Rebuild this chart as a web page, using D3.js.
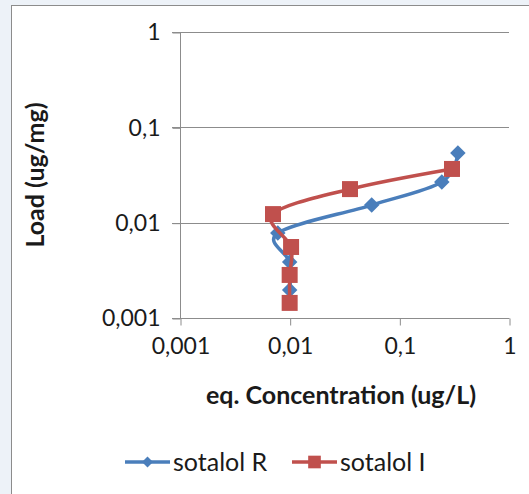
<!DOCTYPE html>
<html>
<head>
<meta charset="utf-8">
<script src="https://cdn.jsdelivr.net/npm/d3@7"></script>
<style>
  html, body { margin: 0; padding: 0; background: #edf2f8; }
  svg { display: block; }
  text { font-family: Lato, "Open Sans", sans-serif; fill: #1a1a1a; }
</style>
</head>
<body>
<div id="container"></div>
<script>
const width = 529;
const height = 494;

// DATA
const seriesNames = ["sotalol R", "sotalol I"];
const colors = ["#4a7ebb", "#c0504d"];
const concR = [0.0100, 0.0100, 0.0078, 0.056, 0.244, 0.342];
const loadR = [0.00197, 0.00386, 0.0078, 0.0153, 0.0267, 0.0538];
const concI = [0.0100, 0.0100, 0.0103, 0.00705, 0.0355, 0.302];
const loadI = [0.00144, 0.00283, 0.00556, 0.0123, 0.0225, 0.0366];
const xTicks = [0.001, 0.01, 0.1, 1];
const yTicks = [0.001, 0.01, 0.1, 1];

const series = [
    {name: seriesNames[0], color: colors[0], shape: "diamond",
     values: concR.map((c, i) => ({x: c, y: loadR[i]}))},
    {name: seriesNames[1], color: colors[1], shape: "square",
     values: concI.map((c, i) => ({x: c, y: loadI[i]}))}
];

const svg = d3.select("#container").append("svg")
    .attr("width", width)
    .attr("height", height);

// chart frame
svg.append("rect")
    .attr("x", 11.5).attr("y", 5.5)
    .attr("width", width + 20).attr("height", height + 20)
    .attr("fill", "#fff")
    .attr("stroke", "#8c8c8c");

// SCALES
const plot = {left: 180, right: 509, top: 32, bottom: 318};
const x = d3.scaleLog().domain([0.001, 1]).range([plot.left, plot.right]);
const y = d3.scaleLog().domain([0.001, 1]).range([plot.bottom, plot.top]);
const fmt = v => String(v).replace(".", ",");

// GRID
svg.append("g")
    .selectAll("line")
    .data(yTicks)
    .join("line")
    .attr("x1", plot.left - 8)
    .attr("x2", plot.right)
    .attr("y1", d => Math.round(y(d)) + 0.5)
    .attr("y2", d => Math.round(y(d)) + 0.5)
    .attr("stroke", "#8c8c8c");

// AXES
const yAxis = svg.append("g")
    .attr("transform", "translate(" + (plot.left + 0.5) + ",0.5)")
    .call(d3.axisLeft(y).tickValues(yTicks).tickFormat(fmt).tickSize(8).tickPadding(12));

const xAxis = svg.append("g")
    .attr("transform", "translate(0.5," + (plot.bottom + 0.5) + ")")
    .call(d3.axisBottom(x).tickValues(xTicks).tickFormat(fmt).tickSize(7).tickSizeOuter(0).tickPadding(12));

[yAxis, xAxis].forEach(a => {
    a.selectAll("path, line").attr("stroke", "#8c8c8c");
    a.selectAll("text").style("font-size", "23px").attr("fill", "#1a1a1a");
});
yAxis.select(".domain").attr("d", "M0," + plot.top + "V" + plot.bottom);
xAxis.select(".domain").attr("d", "M" + plot.left + ",0H" + plot.right);

// AXIS TITLES
svg.append("text")
    .attr("x", 341)
    .attr("y", 404)
    .attr("text-anchor", "middle")
    .style("font-size", "25px")
    .style("font-weight", "bold")
    .text("eq. Concentration (ug/L)");

svg.append("text")
    .attr("transform", "translate(44," + (plot.top + plot.bottom) / 2 + ") rotate(-90)")
    .attr("text-anchor", "middle")
    .style("font-size", "25px")
    .style("font-weight", "bold")
    .text("Load (ug/mg)");

// LINES
const line = d3.line()
    .x(d => x(d.x))
    .y(d => y(d.y))
    .curve(d3.curveCardinal.tension(0));

const symbolPath = shape => shape === "diamond"
    ? d3.symbol().type(d3.symbolSquare).size(120)()
    : d3.symbol().type(d3.symbolSquare).size(256)();
const symbolRot = shape => shape === "diamond" ? " rotate(45)" : "";

const groups = svg.selectAll(".series")
    .data(series)
    .join("g")
    .attr("class", "series");

groups.append("path")
    .attr("d", d => line(d.values))
    .attr("fill", "none")
    .attr("stroke", d => d.color)
    .attr("stroke-width", 3.5);

groups.each(function (s) {
    d3.select(this).selectAll(".mark")
        .data(s.values)
        .join("path")
        .attr("class", "mark")
        .attr("d", symbolPath(s.shape))
        .attr("transform", d => "translate(" + x(d.x) + "," + y(d.y) + ")" + symbolRot(s.shape))
        .attr("fill", s.color);
});

// LEGEND
const legendX = [125, 292];
const legend = svg.selectAll(".legend")
    .data(series)
    .join("g")
    .attr("class", "legend")
    .attr("transform", (d, i) => "translate(" + legendX[i] + ",462)");

legend.append("line")
    .attr("x1", 0).attr("x2", 45)
    .attr("stroke", d => d.color)
    .attr("stroke-width", 3.5);

legend.append("path")
    .attr("d", d => d.shape === "diamond"
        ? d3.symbol().type(d3.symbolSquare).size(60)()
        : d3.symbol().type(d3.symbolSquare).size(160)())
    .attr("transform", d => "translate(22.5,0)" + symbolRot(d.shape))
    .attr("fill", d => d.color);

legend.append("text")
    .attr("x", 48)
    .attr("dy", "0.35em")
    .style("font-size", "25px")
    .text(d => d.name);
</script>
</body>
</html>
